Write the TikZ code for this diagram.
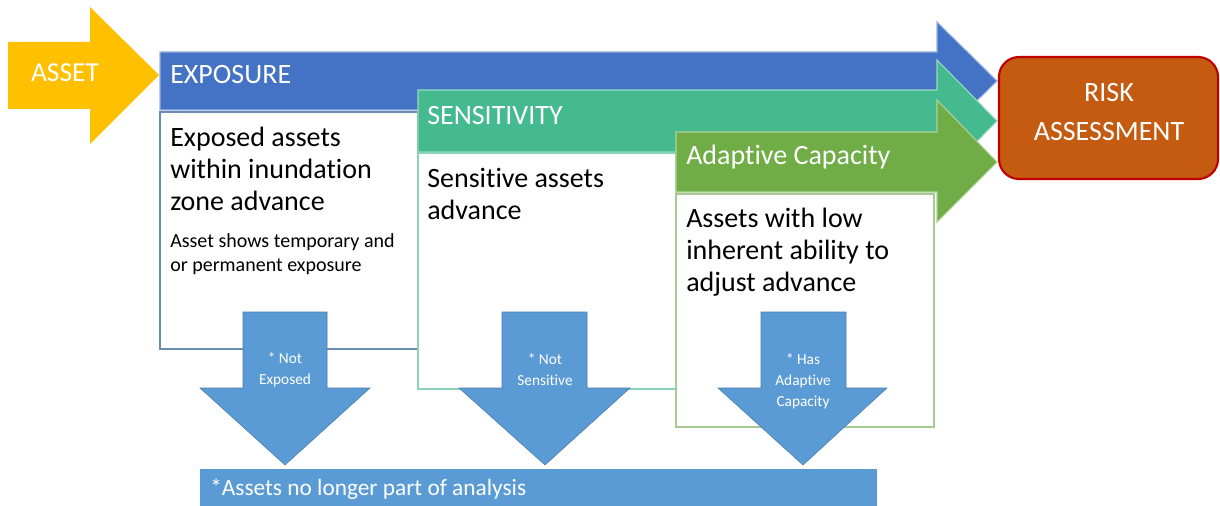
\documentclass[tikz,border=0pt]{standalone}
\usepackage{fontspec}
\setmainfont{Carlito}[Ligatures=NoCommon]
\definecolor{cyellow}{HTML}{FFC000}
\definecolor{cblue}{HTML}{4472C4}
\definecolor{cteal}{HTML}{44BA8E}
\definecolor{cgreen}{HTML}{70AD47}
\definecolor{corange}{HTML}{C55A11}
\definecolor{cred}{HTML}{C00000}
\definecolor{cdown}{HTML}{5B9BD5}
\definecolor{bexp}{HTML}{6A8CAF}
\definecolor{bsen}{HTML}{8AD3B5}
\definecolor{bada}{HTML}{A9C994}
\tikzset{
  bigarrow/.style={line width=0.8pt, line join=miter},
  whitebox/.style={fill=white, line width=0.9pt},
  downarrow/.style={fill=cdown, draw=cdown!80!black, line width=0.4pt},
  headtext/.style={text=white, font=\fontsize{21}{24}\selectfont, inner sep=0pt, anchor=west},
  bodytext/.style={text=black, font=\fontsize{21}{24}\selectfont, inner sep=0pt, anchor=north west, align=left},
  smalltext/.style={text=black, font=\fontsize{15}{18}\selectfont, inner sep=0pt, anchor=north west, align=left},
  downtext/.style={text=white, font=\fontsize{11.5}{15.75}\selectfont, inner sep=0pt, align=center},
}
\begin{document}
\begin{tikzpicture}[x=0.75pt, y=-0.75pt]
\useasboundingbox (0,0) rectangle (1220,506);
% exposure arrow and box
\draw[bigarrow, fill=cblue, draw=cblue!55!white] (160,52) -- (937,52) -- (937,22) -- (997,81) -- (937,140) -- (937,110) -- (160,110) -- cycle;
\draw[whitebox, draw=bexp] (160,112) rectangle (418,349);
% sensitivity arrow and box
\draw[bigarrow, fill=cteal, draw=cteal!55!white] (418,90) -- (937,90) -- (937,60) -- (997,121) -- (937,182) -- (937,152) -- (418,152) -- cycle;
\draw[whitebox, draw=bsen] (418,153) rectangle (676,389);
% adaptive arrow and box
\draw[bigarrow, fill=cgreen, draw=cgreen!55!white] (676,132) -- (937,132) -- (937,100) -- (997,162) -- (937,222) -- (937,192) -- (676,192) -- cycle;
\draw[whitebox, draw=bada] (676,194) rectangle (934,427);
% asset arrow
\fill[cyellow] (8,42) -- (90,42) -- (90,7) -- (159,75) -- (90,144) -- (90,109) -- (8,109) -- cycle;
% risk box
\draw[draw=cred, fill=corange, line width=1.6pt, rounded corners=15pt] (999,57) rectangle (1218,179);
\node[text=white, align=center, font=\fontsize{21}{29}\selectfont, inner sep=0pt] (risk) at (1109,112) {RISK\\ASSESSMENT};
% texts
\node[text=white, font=\fontsize{20.6}{24}\selectfont, inner sep=0pt] (asset) at (65,73) {ASSET};
\node[headtext] (exp) at (170,75) {EXPOSURE};
\node[headtext] (sen) at (427,116) {SENSITIVITY};
\node[headtext] (ada) at (686,157) {Adaptive Capacity};
\node[bodytext] (expbody) at (170,127) {Exposed assets\\within inundation\\zone advance};
\node[smalltext] (expsmall) at (170,233) {Asset shows temporary and\\or permanent exposure};
\node[bodytext] (senbody) at (427,168) {Sensitive assets\\advance};
\node[bodytext] (adabody) at (686,208) {Assets with low\\inherent ability to\\adjust advance};
% down arrows
\draw[downarrow] (243,312) -- (327,312) -- (327,388) -- (370,388) -- (285,465) -- (200,388) -- (243,388) -- cycle;
\draw[downarrow] (502,312) -- (587,312) -- (587,388) -- (630,388) -- (545,465) -- (459,388) -- (502,388) -- cycle;
\draw[downarrow] (761,312) -- (846,312) -- (846,388) -- (887,388) -- (803,465) -- (718,388) -- (761,388) -- cycle;
\node[downtext] (d1) at (285,370) {* Not\\Exposed};
\node[downtext] (d2) at (545,370) {* Not\\Sensitive};
\node[downtext] (d3) at (803,381) {* Has\\Adaptive\\Capacity};
% bottom bar
\fill[cdown] (200,469) rectangle (877,506);
\node[text=white, font=\fontsize{17.5}{20}\selectfont, inner sep=0pt, anchor=west] (bottom) at (210,489) {*Assets no longer part of analysis};
\end{tikzpicture}
\end{document}
